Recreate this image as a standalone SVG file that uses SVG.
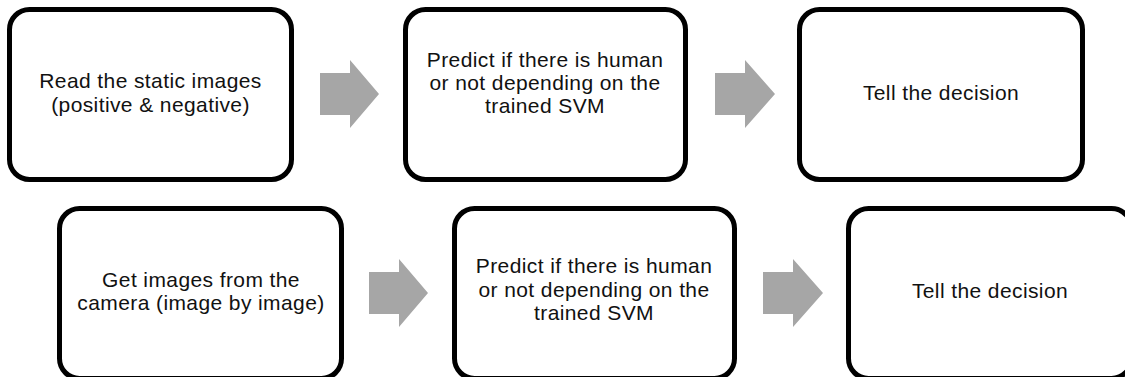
<svg xmlns="http://www.w3.org/2000/svg" width="1125" height="377" viewBox="0 0 1125 377">
<style>
.box{fill:#fff;stroke:#000;stroke-width:5}
.lbl{font-family:"Liberation Sans",Arial,sans-serif;font-size:21px;letter-spacing:0.4px;fill:#111;text-anchor:middle}
.arr{fill:#a6a6a6}
</style>
<rect width="1125" height="377" fill="#fff"/>
<g id="connectors">
<polygon class="arr" points="320,73 350,73 350,60 379,94 350,128 350,115 320,115"/>
<polygon class="arr" points="715,73 745,73 745,60 775,94 745,128 745,115 715,115"/>
<polygon class="arr" points="369,272 399,272 399,259 428,293 399,327 399,314 369,314"/>
<polygon class="arr" points="763,272 793,272 793,259 823,293 793,327 793,314 763,314"/>
</g>
<g id="n1">
<rect class="box" x="9.5" y="9.5" width="282" height="170" rx="20"/>
<text class="lbl" x="150.5" y="88">Read the static images</text>
<text class="lbl" x="150.5" y="112">(positive &amp; negative)</text>
</g>
<g id="n2">
<rect class="box" x="405.5" y="9.5" width="280" height="170" rx="20"/>
<text class="lbl" x="545" y="67">Predict if there is human</text>
<text class="lbl" x="545" y="90">or not depending on the</text>
<text class="lbl" x="545" y="113">trained SVM</text>
</g>
<g id="n3">
<rect class="box" x="799.5" y="9.5" width="283" height="170" rx="20"/>
<text class="lbl" x="941" y="100">Tell the decision</text>
</g>
<g id="n4">
<rect class="box" x="59.5" y="208.5" width="282" height="170" rx="20"/>
<text class="lbl" x="201" y="287">Get images from the</text>
<text class="lbl" x="201" y="310">camera (image by image)</text>
</g>
<g id="n5">
<rect class="box" x="454.5" y="208.5" width="280" height="170" rx="20"/>
<text class="lbl" x="594" y="273">Predict if there is human</text>
<text class="lbl" x="594" y="297">or not depending on the</text>
<text class="lbl" x="594" y="320">trained SVM</text>
</g>
<g id="n6">
<rect class="box" x="848.5" y="208.5" width="283" height="170" rx="20"/>
<text class="lbl" x="990" y="298">Tell the decision</text>
</g>
</svg>
